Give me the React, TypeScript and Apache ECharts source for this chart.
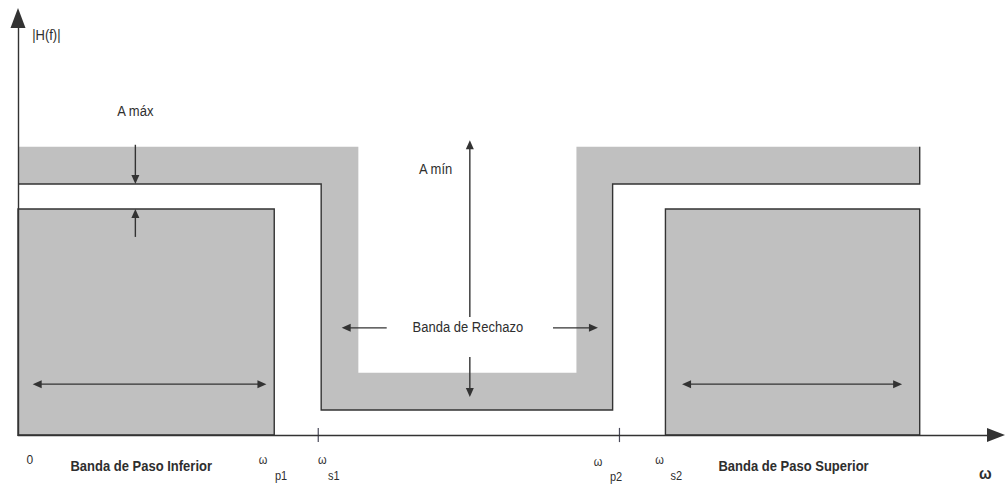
import React, { useEffect, useRef } from "react";
import * as echarts from "echarts";

// ω axis in arbitrary units (0–100), |H(f)| axis in arbitrary units (0–100)
const passEdges = [26.2, 66.2]; // right edge of lower pass box, left edge of upper pass box
const maskNotch = [31.0, 60.8]; // outer walls of the rejection notch
const notchInner = [34.8, 57.1]; // inner walls of the rejection notch
const maskEnd = [92.2];
const tickMarks = [30.7, 61.5];

const passMin = [54.2]; // top of the pass-band boxes
const passMax = [60.2]; // lower edge of the upper tolerance mask
const maskTop = [69.1];
const stopInner = [14.9];
const stopMax = [6.0];

// annotation arrows (data units)
const arrowFrom = [
  [12.0, 69.6], [12.0, 47.5], [46.2, 28.3], [46.2, 18.7],
  [37.7, 25.7], [54.7, 25.7], [1.5, 12.2], [67.9, 12.2],
];
const arrowTo = [
  [12.0, 60.2], [12.0, 54.2], [46.2, 70.7], [46.2, 9.1],
  [33.1, 25.7], [59.3, 25.7], [25.4, 12.2], [90.4, 12.2],
];
const arrowBoth = [false, false, false, false, false, false, true, true];

// text annotations
const labelTexts = [
  "|H(f)|", "A máx", "A mín", "Banda de Rechazo", "0",
  "Banda de Paso Inferior", "ω", "p1", "ω", "s1", "ω", "p2", "ω", "s2",
  "Banda de Paso Superior", "ω",
];
const labelX = [2.9, 12.0, 42.7, 46.0, 1.2, 12.6, 25.05, 26.9, 31.1, 32.3, 59.3, 61.15, 65.6, 67.3, 79.3, 98.9];
const labelY = [95.9, 77.7, 63.8, 25.9, -5.8, -7.4, -5.8, -9.6, -5.8, -9.6, -6.3, -10.0, -5.8, -9.6, -7.4, -9.1];
const labelSize = [13, 13, 13, 13, 12, 13, 11, 11, 11, 11, 11, 11, 11, 11, 13, 15];
const labelBold = [false, false, false, false, false, true, false, false, false, false, false, false, false, false, true, true];

export default function App() {
  const ref = useRef<HTMLDivElement>(null);

  useEffect(() => {
    const chart = echarts.init(ref.current!, null, { renderer: "svg" });
    const FILL = "#c0c0c0";
    const LINE = "#333333";
    const TEXT = "#2e2e2e";
    const FONT = "'Liberation Sans', Arial, sans-serif";

    const upperMask = [
      [0, maskTop[0]], [notchInner[0], maskTop[0]], [notchInner[0], stopInner[0]],
      [notchInner[1], stopInner[0]], [notchInner[1], maskTop[0]], [maskEnd[0], maskTop[0]],
      [maskEnd[0], passMax[0]], [maskNotch[1], passMax[0]], [maskNotch[1], stopMax[0]],
      [maskNotch[0], stopMax[0]], [maskNotch[0], passMax[0]], [0, passMax[0]],
    ];
    const maskBorder = [
      [0, passMax[0]], [maskNotch[0], passMax[0]], [maskNotch[0], stopMax[0]],
      [maskNotch[1], stopMax[0]], [maskNotch[1], passMax[0]], [maskEnd[0], passMax[0]],
      [maskEnd[0], maskTop[0]],
    ];
    const passBoxes = [[0, passEdges[0]], [passEdges[1], maskEnd[0]]];

    const renderItem = (params: any, api: any) => {
      const c = (p: number[]) => api.coord(p);
      const children: any[] = [];
      children.push({ type: "polygon", shape: { points: upperMask.map(c) }, style: { fill: FILL } });
      children.push({
        type: "polyline",
        shape: { points: maskBorder.map(c) },
        style: { stroke: LINE, lineWidth: 1.4, fill: null },
      });
      passBoxes.forEach(([a, b]) => {
        const p0 = c([a, passMin[0]]);
        const p1 = c([b, 0]);
        children.push({
          type: "rect",
          shape: { x: p0[0], y: p0[1], width: p1[0] - p0[0], height: p1[1] - p0[1] },
          style: { fill: FILL, stroke: LINE, lineWidth: 1.4 },
        });
      });
      tickMarks.forEach((t) => {
        const a = c([t, 1.7]);
        const b = c([t, -1.7]);
        children.push({
          type: "line",
          shape: { x1: a[0], y1: a[1], x2: b[0], y2: b[1] },
          style: { stroke: "#4a4a5a", lineWidth: 1.2 },
        });
      });
      const L = 9;
      const W = 4;
      const head = (tip: number[], base: number[]) => {
        const dx = tip[0] - base[0];
        const dy = tip[1] - base[1];
        const len = Math.hypot(dx, dy);
        const ux = dx / len;
        const uy = dy / len;
        const bx = tip[0] - ux * L;
        const by = tip[1] - uy * L;
        return {
          type: "polygon",
          shape: { points: [tip, [bx - uy * W, by + ux * W], [bx + uy * W, by - ux * W]] },
          style: { fill: LINE },
        };
      };
      arrowFrom.forEach((f, i) => {
        const p0 = c(f);
        const p1 = c(arrowTo[i]);
        const dx = p1[0] - p0[0];
        const dy = p1[1] - p0[1];
        const len = Math.hypot(dx, dy);
        const ux = dx / len;
        const uy = dy / len;
        const s = arrowBoth[i] ? L * 0.8 : 0;
        children.push({
          type: "line",
          shape: {
            x1: p0[0] + ux * s, y1: p0[1] + uy * s,
            x2: p1[0] - ux * L * 0.8, y2: p1[1] - uy * L * 0.8,
          },
          style: { stroke: LINE, lineWidth: 1.4 },
        });
        children.push(head(p1, p0));
        if (arrowBoth[i]) children.push(head(p0, p1));
      });
      labelTexts.forEach((t, i) => {
        const p = c([labelX[i], labelY[i]]);
        children.push({
          type: "text",
          x: p[0],
          y: p[1],
          scaleY: 1.12,
          style: {
            text: t,
            fill: TEXT,
            fontSize: labelSize[i],
            fontFamily: FONT,
            fontWeight: labelBold[i] ? "bold" : "normal",
            align: "center",
            verticalAlign: "middle",
          },
        });
      });
      return { type: "group", children };
    };

    chart.setOption({
      animation: false,
      backgroundColor: "#ffffff",
      grid: { left: 18, right: 9, top: 18, bottom: 49, outerBoundsMode: "none" },
      xAxis: {
        type: "value",
        min: 0,
        max: 100,
        z: 5,
        axisLine: {
          show: true,
          onZero: true,
          symbol: ["none", "triangle"],
          symbolSize: [14, 18],
          lineStyle: { color: "#333333", width: 1.4 },
        },
        axisTick: { show: false },
        axisLabel: { show: false },
        splitLine: { show: false },
      },
      yAxis: {
        type: "value",
        min: 0,
        max: 100,
        z: 5,
        axisLine: {
          show: true,
          symbol: ["none", "triangle"],
          symbolSize: [15, 20],
          lineStyle: { color: "#333333", width: 1.4 },
        },
        axisTick: { show: false },
        axisLabel: { show: false },
        splitLine: { show: false },
      },
      series: [
        {
          type: "custom",
          clip: false,
          data: [[0, 0]],
          renderItem,
          silent: true,
        },
      ],
    });

    return () => chart.dispose();
  }, []);

  return (
    <div
      ref={ref}
      style={{ position: "fixed", left: 0, top: 0, width: 1005, height: 484, background: "#fff" }}
    />
  );
}
